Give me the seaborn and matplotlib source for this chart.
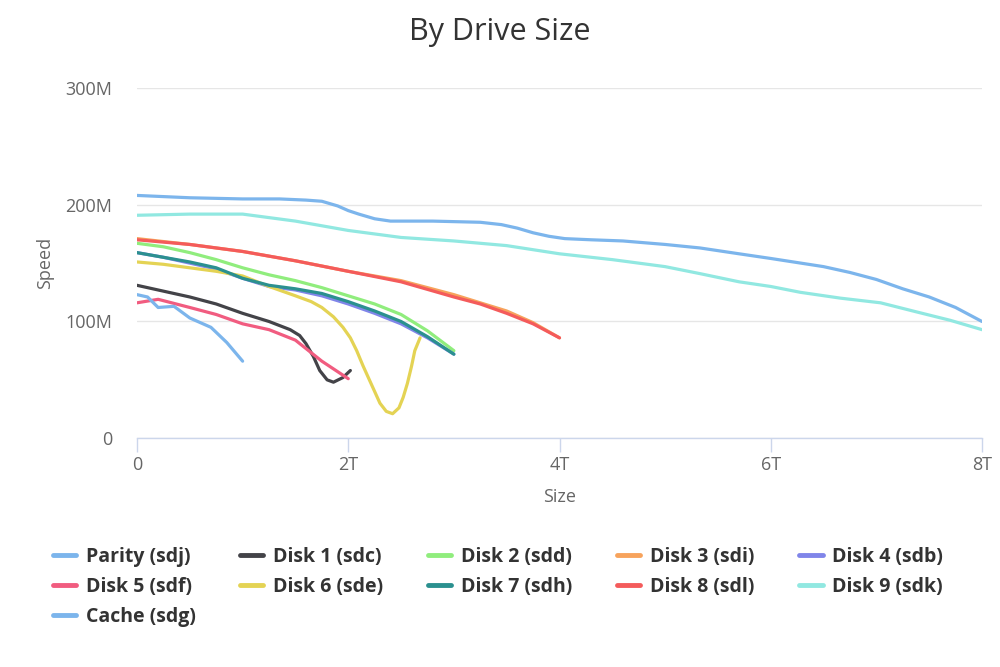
import pandas as pd
import numpy as np
import matplotlib.pyplot as plt
import seaborn as sns

sns.set_theme(style="white")
plt.rcParams['font.family'] = ['Open Sans', 'DejaVu Sans']

# size in T, speed in M
parity_x = [0, 0.5, 1, 1.35, 1.6, 1.75, 1.9, 2.0, 2.1, 2.25, 2.4, 2.8, 3.25, 3.45, 3.6, 3.75, 3.9,
            4.05, 4.3, 4.6, 5, 5.33, 5.7, 6.0, 6.5, 6.75, 7.0, 7.25, 7.5, 7.75, 8]
parity_y = [208, 206, 205, 205, 204, 203, 199, 195, 192, 188, 186, 186, 185, 183, 180, 176, 173,
            171, 170, 169, 166, 163, 158, 154, 147, 142, 136, 128, 121, 112, 100]

disk1_x = [0, 0.25, 0.5, 0.75, 1.0, 1.25, 1.45, 1.54, 1.6, 1.67, 1.73, 1.8, 1.86, 1.95, 2.02]
disk1_y = [131, 126, 121, 115, 107, 100, 93, 88, 81, 70, 58, 50, 48, 52, 58]

disk2_x = [0, 0.25, 0.5, 0.75, 1.0, 1.25, 1.5, 1.75, 2.0, 2.25, 2.5, 2.75, 3.0]
disk2_y = [167, 164, 159, 153, 146, 140, 135, 129, 122, 115, 106, 92, 75]

disk3_x = [0, 0.5, 1, 1.5, 2, 2.5, 3, 3.25, 3.5, 3.75, 4]
disk3_y = [171, 166, 160, 152, 143, 135, 123, 116, 109, 99, 86]

disk4_x = [0, 0.25, 0.5, 0.75, 1.0, 1.25, 1.5, 1.75, 2.0, 2.25, 2.5, 2.75, 3.0]
disk4_y = [159, 155, 150, 145, 137, 130, 127, 122, 115, 107, 98, 86, 72]

disk5_x = [0, 0.2, 0.5, 0.75, 1.0, 1.25, 1.5, 1.75, 2.0]
disk5_y = [116, 119, 112, 106, 98, 93, 84, 66, 51]

disk6_x = [0, 0.25, 0.5, 0.75, 1.0, 1.25, 1.5, 1.65, 1.75, 1.86, 1.95, 2.02, 2.08, 2.14, 2.2,
           2.25, 2.3, 2.36, 2.42, 2.48, 2.52, 2.56, 2.6, 2.63, 2.68]
disk6_y = [151, 149, 146, 143, 139, 130, 122, 117, 112, 104, 95, 86, 75, 62, 50,
           40, 30, 23, 21, 26, 35, 47, 62, 75, 86]

disk7_x = [0, 0.25, 0.5, 0.75, 1.0, 1.25, 1.5, 1.75, 2.0, 2.25, 2.5, 2.75, 3.0]
disk7_y = [159, 155, 151, 146, 137, 131, 128, 124, 117, 109, 100, 87, 72]

disk8_x = [0, 0.5, 1, 1.5, 2, 2.5, 3, 3.25, 3.5, 3.75, 4]
disk8_y = [170, 166, 160, 152, 143, 134, 121, 115, 107, 98, 86]

disk9_x = [0, 0.5, 1, 1.5, 2, 2.5, 3, 3.5, 4, 4.5, 5, 5.33, 5.7, 6.0, 6.28, 6.66, 7.04, 7.39,
           7.7, 8]
disk9_y = [191, 192, 192, 186, 178, 172, 169, 165, 158, 153, 147, 141, 134, 130, 125, 120, 116,
           108, 101, 93]

cache_x = [0, 0.1, 0.2, 0.35, 0.5, 0.7, 0.85, 1.0]
cache_y = [123, 121, 112, 113, 103, 95, 82, 66]

names = ["Parity (sdj)", "Disk 1 (sdc)", "Disk 2 (sdd)", "Disk 3 (sdi)", "Disk 4 (sdb)",
         "Disk 5 (sdf)", "Disk 6 (sde)", "Disk 7 (sdh)", "Disk 8 (sdl)", "Disk 9 (sdk)",
         "Cache (sdg)"]
colors = ["#7cb5ec", "#434348", "#90ed7d", "#f7a35c", "#8085e9", "#f15c80",
          "#e4d354", "#2b908f", "#f45b5b", "#91e8e1", "#7cb5ec"]
series = [(parity_x, parity_y), (disk1_x, disk1_y), (disk2_x, disk2_y), (disk3_x, disk3_y),
          (disk4_x, disk4_y), (disk5_x, disk5_y), (disk6_x, disk6_y), (disk7_x, disk7_y),
          (disk8_x, disk8_y), (disk9_x, disk9_y), (cache_x, cache_y)]

frames = []
for name, (xs, ys) in zip(names, series):
    frames.append(pd.DataFrame({"size": xs, "speed": ys, "drive": name}))
df = pd.concat(frames, ignore_index=True)

fig = plt.figure(figsize=(10, 6.67), dpi=100)
ax = fig.add_axes([0.137, 0.343, 0.845, 0.525])

sns.lineplot(data=df, x="size", y="speed", hue="drive", hue_order=names,
             palette=dict(zip(names, colors)), sort=False, estimator=None,
             linewidth=2.3, ax=ax)
for line in ax.lines:
    line.set_solid_joinstyle("round")
    line.set_solid_capstyle("round")

ax.set_xlim(0, 8)
ax.set_ylim(0, 300)
ax.set_xticks([0, 2, 4, 6, 8])
ax.set_xticklabels(["0", "2T", "4T", "6T", "8T"])
ax.set_yticks([0, 100, 200, 300])
ax.set_yticklabels(["0", "100M", "200M", "300M"])
ax.yaxis.grid(True, color="#e6e6e6", linewidth=1)
ax.xaxis.grid(False)
for s in ["top", "right", "left"]:
    ax.spines[s].set_visible(False)
ax.spines["bottom"].set_color("#ccd6eb")
ax.spines["bottom"].set_linewidth(1)
ax.tick_params(axis="x", length=10, width=1, color="#ccd6eb", colors="#666666",
               labelsize=13, pad=3, bottom=True)
ax.tick_params(axis="y", length=0, colors="#666666", labelsize=13, pad=18)
ax.set_xlabel("Size", color="#666666", fontsize=13, labelpad=10)
ax.set_ylabel("Speed", color="#666666", fontsize=13, labelpad=8)

fig.suptitle("By Drive Size", x=0.5, y=0.975, fontsize=22, color="#333333")

handles, labels = ax.get_legend_handles_labels()
ax.get_legend().remove()
order = [0, 5, 10, 1, 6, 2, 7, 3, 8, 4, 9]
leg = fig.legend([handles[i] for i in order], [labels[i] for i in order],
                 loc="upper left", bbox_to_anchor=(0.035, 0.206), ncol=5, frameon=False,
                 handlelength=1.2, handletextpad=0.5, columnspacing=2.3,
                 labelspacing=0.5, prop={"weight": "bold", "size": 14})
for t in leg.get_texts():
    t.set_color("#333333")
for h in leg.legend_handles:
    h.set_linewidth(3.5)

fig.savefig("out.png", dpi=100)
